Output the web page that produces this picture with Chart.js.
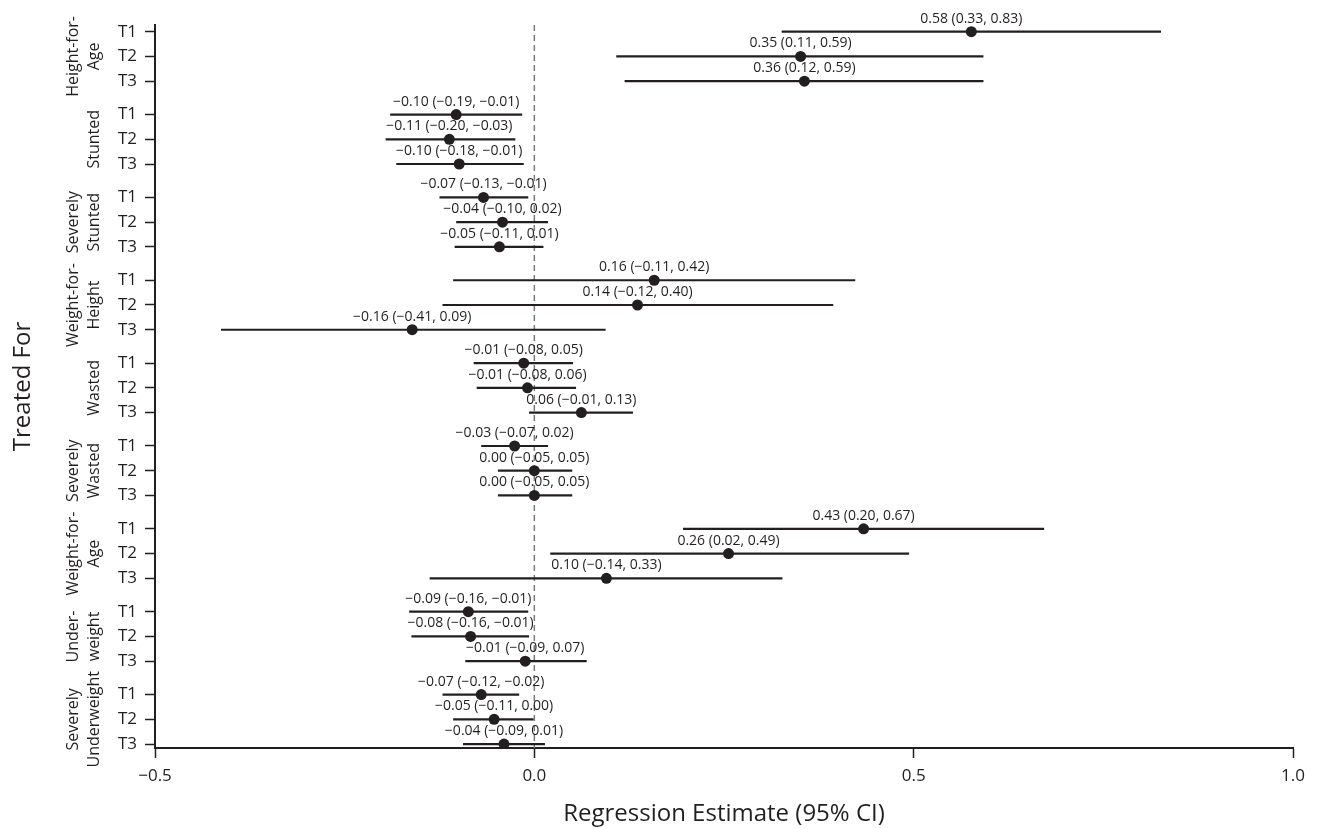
<!DOCTYPE html>
<html><head><meta charset="utf-8">
<script src="https://cdn.jsdelivr.net/npm/chart.js@4/dist/chart.umd.min.js"></script>
<style>html,body{margin:0;padding:0;background:#fff}#wrap{width:1322px;height:829px;position:relative}</style>
</head><body><div id="wrap"><canvas id="c" width="1322" height="829"></canvas></div>
<script>
// ---- data ----
const groupLabels = [
  ["Height-for-", "Age"], ["Stunted"], ["Severely", "Stunted"],
  ["Weight-for-", "Height"], ["Wasted"], ["Severely", "Wasted"],
  ["Weight-for-", "Age"], ["Under-", "weight"], ["Severely", "Underweight"]
];
const treatments = ["T1", "T2", "T3"];
const estimates = [
  0.576, 0.351, 0.356,
  -0.103, -0.112, -0.099,
  -0.067, -0.042, -0.046,
  0.158, 0.136, -0.161,
  -0.014, -0.009, 0.062,
  -0.026, 0.000, 0.000,
  0.434, 0.256, 0.095,
  -0.087, -0.084, -0.012,
  -0.070, -0.053, -0.040
];
const lowerCI = [
  0.326, 0.108, 0.119,
  -0.190, -0.196, -0.182,
  -0.125, -0.103, -0.105,
  -0.107, -0.121, -0.413,
  -0.080, -0.076, -0.007,
  -0.070, -0.048, -0.048,
  0.196, 0.021, -0.138,
  -0.165, -0.162, -0.091,
  -0.121, -0.107, -0.094
];
const upperCI = [
  0.826, 0.592, 0.592,
  -0.016, -0.025, -0.014,
  -0.008, 0.018, 0.012,
  0.423, 0.394, 0.094,
  0.051, 0.055, 0.130,
  0.018, 0.050, 0.050,
  0.672, 0.494, 0.327,
  -0.008, -0.007, 0.069,
  -0.020, -0.001, 0.014
];
const ciLabels = [
  "0.58 (0.33, 0.83)", "0.35 (0.11, 0.59)", "0.36 (0.12, 0.59)",
  "−0.10 (−0.19, −0.01)", "−0.11 (−0.20, −0.03)", "−0.10 (−0.18, −0.01)",
  "−0.07 (−0.13, −0.01)", "−0.04 (−0.10, 0.02)", "−0.05 (−0.11, 0.01)",
  "0.16 (−0.11, 0.42)", "0.14 (−0.12, 0.40)", "−0.16 (−0.41, 0.09)",
  "−0.01 (−0.08, 0.05)", "−0.01 (−0.08, 0.06)", "0.06 (−0.01, 0.13)",
  "−0.03 (−0.07, 0.02)", "0.00 (−0.05, 0.05)", "0.00 (−0.05, 0.05)",
  "0.43 (0.20, 0.67)", "0.26 (0.02, 0.49)", "0.10 (−0.14, 0.33)",
  "−0.09 (−0.16, −0.01)", "−0.08 (−0.16, −0.01)", "−0.01 (−0.09, 0.07)",
  "−0.07 (−0.12, −0.02)", "−0.05 (−0.11, 0.00)", "−0.04 (−0.09, 0.01)"
];
const xTicks = [-0.5, 0, 0.5, 1.0];
const xTickLabels = ["−0.5", "0.0", "0.5", "1.0"];
const xTitle = "Regression Estimate (95% CI)";
const yTitle = "Treated For";

// ---- layout helpers ----
const GROUP_STEP = 3.35;
const rowPos = estimates.map((_, i) => Math.floor(i / 3) * GROUP_STEP + (i % 3));
const INK = "#231f20";
const FONT = "'Open Sans', 'Noto Sans', sans-serif";
Chart.defaults.font.family = FONT;
Chart.defaults.color = INK;

const datasets = rowPos.map((y, i) => ({
  data: [{x: lowerCI[i], y}, {x: upperCI[i], y}],
  showLine: true, borderColor: INK, borderWidth: 2.2,
  pointRadius: 0, pointHoverRadius: 0
}));
datasets.push({
  data: estimates.map((e, i) => ({x: e, y: rowPos[i]})),
  pointRadius: 5.5, pointHoverRadius: 5.5, backgroundColor: INK, borderWidth: 0, showLine: false
});

const annot = {
  id: 'annot',
  beforeDatasetsDraw(chart) {
    const {ctx, chartArea: a, scales: {x}} = chart;
    const px = x.getPixelForValue(0);
    ctx.save();
    ctx.strokeStyle = '#7a7a7a'; ctx.lineWidth = 1.5; ctx.setLineDash([6, 4]);
    ctx.beginPath(); ctx.moveTo(px, a.top); ctx.lineTo(px, a.bottom); ctx.stroke();
    ctx.restore();
  },
  afterDatasetsDraw(chart) {
    const {ctx, scales: {x, y}} = chart;
    ctx.save();
    ctx.fillStyle = INK; ctx.font = "14px " + FONT;
    ctx.textAlign = 'center'; ctx.textBaseline = 'middle';
    ciLabels.forEach((t, i) => {
      ctx.fillText(t, x.getPixelForValue(estimates[i]), y.getPixelForValue(rowPos[i]) - 13);
    });
    ctx.restore();
  },
  afterDraw(chart) {
    const {ctx, scales: {y}} = chart;
    ctx.save();
    ctx.fillStyle = INK; ctx.font = "16px " + FONT;
    ctx.textAlign = 'center'; ctx.textBaseline = 'middle';
    groupLabels.forEach((lines, g) => {
      const cy = y.getPixelForValue(g * GROUP_STEP + 1);
      lines.forEach((ln, j) => {
        const cx = 94 - (lines.length - 1 - j) * 21;
        ctx.save(); ctx.translate(cx, cy); ctx.rotate(-Math.PI / 2);
        ctx.fillText(ln, 0, 0); ctx.restore();
      });
    });
    ctx.restore();
  }
};

new Chart(document.getElementById('c'), {
  type: 'scatter',
  data: {datasets},
  options: {
    responsive: false, animation: false, devicePixelRatio: 1,
    layout: {padding: {top: 25, right: 29, bottom: 0, left: 0}},
    plugins: {legend: {display: false}, tooltip: {enabled: false}},
    scales: {
      x: {
        type: 'linear', min: -0.5, max: 1.0,
        afterBuildTicks: s => { s.ticks = xTicks.map(v => ({value: v})); },
        afterFit: s => { s.height = 81; },
        ticks: {
          font: {size: 17}, color: INK, padding: 8, maxRotation: 0, autoSkip: false,
          callback: v => xTickLabels[xTicks.findIndex(t => Math.abs(t - v) < 1e-9)]
        },
        grid: {drawOnChartArea: false, drawTicks: true, tickLength: 10, tickColor: INK, tickWidth: 1.5},
        border: {display: true, color: INK, width: 2},
        title: {display: true, text: xTitle, font: {size: 24}, color: INK, padding: {top: 0, bottom: 0}}
      },
      y: {
        type: 'linear', min: -0.27, max: 28.96, reverse: true,
        afterBuildTicks: s => { s.ticks = rowPos.map(v => ({value: v})); },
        afterFit: s => { s.width = 155; },
        ticks: {
          font: {size: 17}, color: INK, padding: 8, autoSkip: false,
          callback: v => treatments[rowPos.findIndex(p => Math.abs(p - v) < 1e-9) % 3]
        },
        grid: {drawOnChartArea: false, drawTicks: true, tickLength: 10, tickColor: INK, tickWidth: 1.5},
        border: {display: true, color: INK, width: 2},
        title: {display: true, text: yTitle, font: {size: 24}, color: INK, padding: {top: 9, bottom: 0}}
      }
    }
  },
  plugins: [annot]
});
</script>
</body></html>
